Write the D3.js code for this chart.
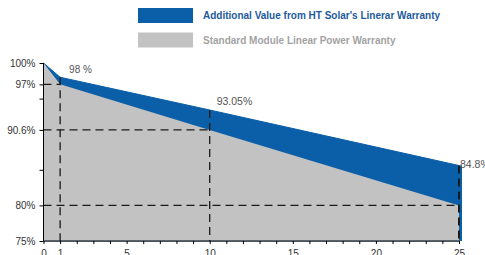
<!DOCTYPE html>
<html>
<head>
<meta charset="utf-8">
<script src="https://cdn.jsdelivr.net/npm/d3@7"></script>
<style>
  body { margin: 0; background: #fff; }
  svg { display: block; font-family: "Liberation Sans", Arial, sans-serif; }
</style>
</head>
<body>
<svg id="chart" width="485" height="255"></svg>
<script>
// anni e valori
const years = [0, 1, 10, 25];
const standardValues = [100, 97, 90.6, 80];
const htValues = [100, 98, 93.4, 85.6];
const pointLabels = ["", "98 %", "93.05%", "84.8%"];
const yTickValues = [100, 97, 95, 90.6, 85, 80, 75];
const yTickLabels = { 100: "100%", 97: "97%", 90.6: "90.6%", 80: "80%", 75: "75%" };
const xLabelValues = [0, 1, 5, 10, 15, 20, 25];
const legendLabels = ["Additional Value from HT Solar's Linerar Warranty", "Standard Module Linear Power Warranty"];

const blue = "#0b5ea8";
const gray = "#c2c2c2";

const svg = d3.select("#chart");

/* scale */
const x = d3.scaleLinear().domain([0, 25]).range([43.5, 459]);
const y = d3.scaleLinear().domain([75, 100]).range([241, 63]);

const data = years.map((yr, i) => ({ yr: yr, std: standardValues[i], ht: htValues[i], label: pointLabels[i] }));
const last = data[data.length - 1];

/* area blu (valore aggiunto) fino alla base */
svg.append("path")
    .datum(data)
    .attr("d", d3.area().x(d => x(d.yr)).y0(y(75)).y1(d => y(d.ht)))
    .attr("fill", blue)
    .attr("stroke", blue)
    .attr("stroke-width", 1);

/* bordo blu a destra, come nell'originale */
svg.append("line")
    .attr("x1", x(last.yr) + 1.5)
    .attr("x2", x(last.yr) + 1.5)
    .attr("y1", y(last.ht))
    .attr("y2", y(75))
    .attr("stroke", blue)
    .attr("stroke-width", 3);

/* area grigia (garanzia standard) */
svg.append("path")
    .datum(data)
    .attr("d", d3.area().x(d => x(d.yr)).y0(y(75)).y1(d => y(d.std)))
    .attr("fill", gray);

/* linee tratteggiate */
const marks = data.slice(1);
svg.selectAll(".hdash")
    .data(marks)
    .enter()
    .append("line")
    .attr("x1", x(0))
    .attr("x2", d => x(d.yr))
    .attr("y1", d => y(d.std))
    .attr("y2", d => y(d.std))
    .attr("stroke", "#1a1a1a")
    .attr("stroke-width", 1.3)
    .attr("stroke-dasharray", "8,5");

svg.selectAll(".vdash")
    .data(marks)
    .enter()
    .append("line")
    .attr("x1", d => x(d.yr))
    .attr("x2", d => x(d.yr))
    .attr("y1", d => y(d.ht))
    .attr("y2", y(75))
    .attr("stroke", "#1a1a1a")
    .attr("stroke-width", (d, i) => i === 2 ? 2 : 1.3)
    .attr("stroke-dasharray", "8,5");

/* etichette dei punti */
svg.selectAll(".plabel")
    .data(marks)
    .enter()
    .append("text")
    .attr("x", d => x(d.yr) + (d.yr === 25 ? 1 : (d.yr === 1 ? 9 : 7)))
    .attr("y", d => y(d.ht) - (d.yr === 25 ? -2 : (d.yr === 1 ? 4 : 5)))
    .attr("font-size", d => d.yr === 1 ? 10 : 10.5)
    .attr("fill", "#555")
    .text(d => d.label);

/* asse Y */
const yAxis = svg.append("g")
    .attr("transform", `translate(${x(0)},0)`)
    .call(d3.axisLeft(y)
        .tickValues(yTickValues)
        .tickSize(4)
        .tickFormat(d => yTickLabels[d] || ""));
yAxis.select(".domain").attr("stroke", "#000").attr("d", `M0,${y(100)}V${y(75)}`);
yAxis.selectAll("text").attr("font-size", 10).attr("fill", "#333")
    .attr("font-family", "Liberation Sans, Arial, sans-serif").attr("x", -8);

/* asse X */
const xAxis = svg.append("g")
    .attr("transform", `translate(0,${y(75)})`)
    .call(d3.axisBottom(x)
        .tickValues(d3.range(0, 26))
        .tickSize(3)
        .tickFormat(d => xLabelValues.includes(d) ? d : ""));
xAxis.select(".domain").attr("stroke", "#000").attr("d", `M${x(0)},0H${x(25)}`);
xAxis.selectAll("text").attr("font-size", 10).attr("fill", "#333")
    .attr("font-family", "Liberation Sans, Arial, sans-serif").attr("dy", "0.95em");

/* legenda */
const legendColors = [blue, gray];
const legendText = ["#1d5a9c", "#a3a3a3"];
const legend = svg.selectAll(".legend")
    .data(legendLabels)
    .enter()
    .append("g")
    .attr("transform", (d, i) => `translate(138,${8 + i * 24.5})`);
legend.append("rect")
    .attr("width", 55)
    .attr("height", 15)
    .attr("fill", (d, i) => legendColors[i]);
legend.append("text")
    .attr("x", 65)
    .attr("y", 11)
    .attr("font-size", 10)
    .attr("font-weight", "bold")
    .attr("fill", (d, i) => legendText[i])
    .text(d => d);
</script>
</body>
</html>
